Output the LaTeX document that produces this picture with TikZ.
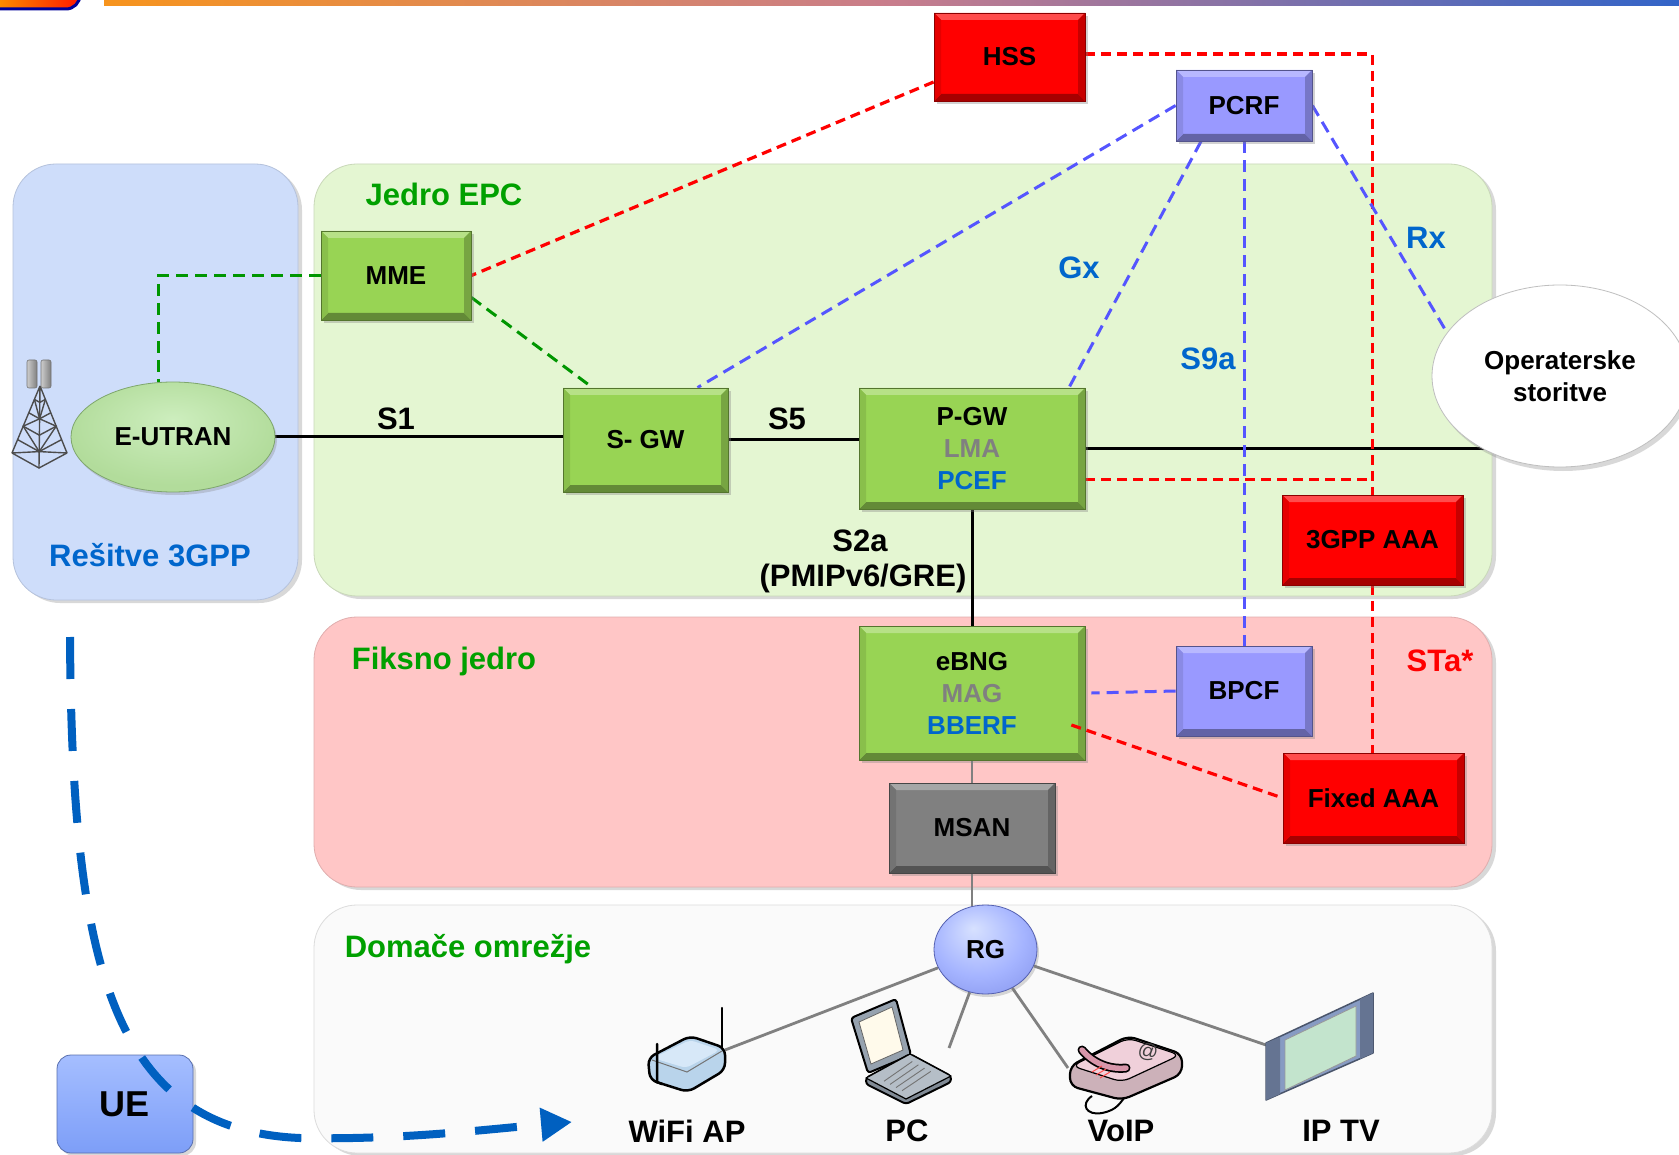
\documentclass[tikz,border=0pt]{standalone}
\usepackage{fontspec}
\setmainfont{Liberation Sans}
\usetikzlibrary{shapes.geometric,shadows,arrows.meta,calc}

% palette
\definecolor{boxgreen}{RGB}{152,212,84}
\definecolor{boxred}{RGB}{255,0,0}
\definecolor{boxlav}{RGB}{153,153,255}
\definecolor{boxgray}{RGB}{128,128,128}
\definecolor{panelblue}{RGB}{206,221,250}
\definecolor{panelgreen}{RGB}{228,246,210}
\definecolor{panelpink}{RGB}{255,198,198}
\definecolor{panelgray}{RGB}{250,250,250}
\definecolor{labgreen}{RGB}{0,160,0}
\definecolor{labblue}{RGB}{0,102,204}
\definecolor{midgray}{RGB}{128,128,128}
\definecolor{dashred}{RGB}{255,0,0}
\definecolor{dashblue}{RGB}{85,85,255}
\definecolor{dashgreen}{RGB}{0,150,0}
\definecolor{ueblue}{RGB}{0,96,192}
\definecolor{uetop}{RGB}{165,190,255}
\definecolor{uebot}{RGB}{125,158,248}
\definecolor{eulight}{RGB}{205,238,190}
\definecolor{eumid}{RGB}{178,220,155}
\definecolor{eudark}{RGB}{140,185,120}
\definecolor{rglight}{RGB}{215,225,255}
\definecolor{rgmid}{RGB}{165,180,255}
\definecolor{rgdark}{RGB}{105,120,220}
\definecolor{apblue}{RGB}{185,212,235}
\definecolor{aplight}{RGB}{215,232,248}
\definecolor{lapgray}{RGB}{150,162,175}
\definecolor{lapscreen}{RGB}{255,250,235}
\definecolor{phonepink}{RGB}{240,208,218}
\definecolor{phonedark}{RGB}{215,150,170}
\definecolor{tvframe}{RGB}{135,155,195}
\definecolor{tvscreen}{RGB}{195,228,205}
\definecolor{barorange}{RGB}{247,148,29}
\definecolor{barmid}{RGB}{200,125,140}
\definecolor{barblue}{RGB}{50,100,200}

\pgfdeclarelayer{panels}
\pgfdeclarelayer{links}
\pgfsetlayers{panels,links,main}

\pgfdeclareradialshading{eushade}{\pgfpoint{0bp}{8bp}}{color(0bp)=(eulight); color(26bp)=(eumid); color(46bp)=(eumid); color(54bp)=(eudark)}
\pgfdeclareradialshading{rgshade}{\pgfpoint{-6bp}{12bp}}{color(0bp)=(rglight); color(22bp)=(rgmid); color(52bp)=(rgdark)}
\pgfdeclareradialshading{opsshade}{\pgfpoint{-4bp}{6bp}}{color(0bp)=(white); color(38bp)=(white); color(50bp)=(black!18); color(58bp)=(black!38)}

\tikzset{
  boxfont/.style={font=\fontsize{26}{32}\selectfont\bfseries},
  lab/.style={font=\fontsize{31}{36}\selectfont\bfseries, inner sep=0pt},
  devlab/.style={font=\fontsize{31}{36}\selectfont\bfseries, inner sep=0pt},
  bev/.style={rectangle, fill=#1, draw=#1!55!black, line width=0.8pt, inner sep=0pt,
    align=center, boxfont,
    drop shadow={shadow xshift=3pt, shadow yshift=-3pt, opacity=0.35},
    path picture={
      \fill[#1!70!white] (path picture bounding box.north west) -- (path picture bounding box.north east)
        -- ([shift={(-7pt,-7pt)}]path picture bounding box.north east) -- ([shift={(7pt,-7pt)}]path picture bounding box.north west) -- cycle;
      \fill[#1!65!black] (path picture bounding box.south west) -- (path picture bounding box.south east)
        -- ([shift={(-7pt,7pt)}]path picture bounding box.south east) -- ([shift={(7pt,7pt)}]path picture bounding box.south west) -- cycle;
      \fill[#1!90!black] (path picture bounding box.north west) -- ([shift={(7pt,-7pt)}]path picture bounding box.north west)
        -- ([shift={(7pt,7pt)}]path picture bounding box.south west) -- (path picture bounding box.south west) -- cycle;
      \fill[#1!78!black] (path picture bounding box.north east) -- ([shift={(-7pt,-7pt)}]path picture bounding box.north east)
        -- ([shift={(-7pt,7pt)}]path picture bounding box.south east) -- (path picture bounding box.south east) -- cycle;
    }},
  panel/.style={rounded corners=43pt, fill=#1, draw=#1!88!black, line width=0.8pt,
    drop shadow={shadow xshift=4pt, shadow yshift=-3pt, opacity=0.3}},
  rdash/.style={draw=dashred, line width=3.2pt, dash pattern=on 10pt off 6pt},
  bdash/.style={draw=dashblue, line width=3pt, dash pattern=on 12pt off 7pt},
  gdash/.style={draw=dashgreen, line width=3pt, dash pattern=on 12pt off 7pt},
  solidlink/.style={draw=black, line width=3pt},
  graylink/.style={draw=black!50, line width=2.8pt},
  uedash/.style={draw=ueblue, line width=8pt, dash pattern=on 42pt off 30pt},
}

\begin{document}
\begin{tikzpicture}[x=1pt,y=-1pt]
\useasboundingbox (0,0) rectangle (1679,1155);

% ---------- background, header and area panels ----------
\begin{pgfonlayer}{panels}
  \fill[white] (0,0) rectangle (1679,1155);
  \shade[left color=barorange, right color=barblue, middle color=barmid] (104,0) rectangle (1679,6);
  \shade[left color=orange!70!yellow, right color=red!80!orange, rounded corners=14pt,
         draw=blue!60!black, line width=3pt] (-20,-30) rectangle (80,9);
  \path[panel=panelblue]  (13,164)  rectangle (298,600);
  \path[panel=panelgreen] (314,164) rectangle (1492,596);
  \path[panel=panelpink]  (314,617) rectangle (1492,887);
  \path[panel=panelgray]  (314,905) rectangle (1492,1153);
  % radio tower
  \begin{scope}[line width=1.4pt, draw=black!70]
    \draw (40,386) -- (12,453) (40,386) -- (67,453) (40,386) -- (39,468);
    \draw (12,453) -- (39,468) -- (67,453);
    \foreach \t in {0.2,0.4,0.6,0.8}{
      \draw ($(40,386)!\t!(12,453)$) -- ($(40,386)!\t!(39,468)$) -- ($(40,386)!\t!(67,453)$);
    }
    \draw ($(40,386)!0.2!(12,453)$) -- ($(40,386)!0.4!(39,468)$) -- ($(40,386)!0.6!(12,453)$) -- ($(40,386)!0.8!(39,468)$) -- (12,453);
    \draw ($(40,386)!0.2!(67,453)$) -- ($(40,386)!0.4!(39,468)$) -- ($(40,386)!0.6!(67,453)$) -- ($(40,386)!0.8!(39,468)$) -- (67,453);
  \end{scope}
  \foreach \ax in {32,46}{
    \shade[left color=black!20, right color=black!50, draw=black!55, line width=0.6pt, rounded corners=2pt]
      (\ax-5,360) rectangle (\ax+5,388);
  }
\end{pgfonlayer}

% ---------- network elements ----------
\node[bev=boxred, minimum width=151pt, minimum height=88pt] (hss) at (1009.5,57) {HSS};
\node[bev=boxlav, minimum width=136pt, minimum height=71pt] (pcrf) at (1244,105.5) {PCRF};
\node[bev=boxgreen, minimum width=150pt, minimum height=89pt] (mme) at (396,275.5) {MME};
\node[bev=boxgreen, minimum width=165pt, minimum height=104pt] (sgw) at (645.5,440) {S- GW};
\node[bev=boxgreen, minimum width=226pt, minimum height=121pt] (pgw) at (972,448.5)
  {P-GW\\\textcolor{midgray}{LMA}\\\textcolor{labblue}{PCEF}};
\node[bev=boxred, minimum width=181pt, minimum height=90pt] (aaa) at (1372.5,540) {3GPP AAA};
\node[bev=boxgreen, minimum width=226pt, minimum height=134pt] (ebng) at (972,693)
  {eBNG\\\textcolor{midgray}{MAG}\\\textcolor{labblue}{BBERF}};
\node[bev=boxlav, minimum width=136pt, minimum height=90pt] (bpcf) at (1244,691) {BPCF};
\node[bev=boxred, minimum width=181pt, minimum height=90pt] (faaa) at (1373.5,798) {Fixed AAA};
\node[bev=boxgray, minimum width=166pt, minimum height=90pt] (msan) at (972,828) {MSAN};

\node[ellipse, minimum width=204pt, minimum height=110pt, inner sep=0pt, shading=eushade,
      draw=eudark!90!black, line width=0.8pt, boxfont,
      drop shadow={shadow xshift=2pt, shadow yshift=-3pt, opacity=0.3}] (eutran) at (173,437) {E-UTRAN};
\node[ellipse, minimum width=256pt, minimum height=182pt, inner sep=0pt, shading=opsshade,
      draw=black!25, line width=0.8pt, align=center, boxfont,
      drop shadow={shadow xshift=3pt, shadow yshift=-4pt, opacity=0.3}] (ops) at (1560,376) {Operaterske\\storitve};
\node[ellipse, minimum width=103pt, minimum height=89pt, inner sep=0pt, shading=rgshade,
      draw=rgdark!80!black, line width=0.8pt, boxfont,
      drop shadow={shadow xshift=2pt, shadow yshift=-3pt, opacity=0.3}] (rg) at (985.5,949.5) {RG};
\node[rectangle, rounded corners=14pt, minimum width=136pt, minimum height=98pt, inner sep=0pt,
      top color=uetop, bottom color=uebot, draw=uebot!70!black, line width=0.8pt,
      font=\fontsize{36}{40}\selectfont\bfseries,
      drop shadow={shadow xshift=3pt, shadow yshift=-3pt, opacity=0.3}] (ue) at (125,1104) {UE};

% ---------- area and interface labels ----------
\node[lab, text=labgreen] (epc) at (444,194) {Jedro EPC};
\node[lab, text=labgreen] (fix) at (444,661) {Fiksno jedro};
\node[lab, text=labgreen] (dom) at (468,949) {Domače omrežje};
\node[lab, text=labblue]  (res) at (150,555) {Rešitve 3GPP};
\node[lab] (s1)  at (396,419) {S1};
\node[lab] (s5)  at (787,419) {S5};
\node[lab] (s2a) at (860,541) {S2a};
\node[lab] (pmip) at (863,578) {(PMIPv6/GRE)};
\node[lab, text=labblue] (gx)  at (1079,268) {Gx};
\node[lab, text=labblue] (s9a) at (1208,359) {S9a};
\node[lab, text=labblue] (rx)  at (1426,238) {Rx};
\node[lab, text=dashred] (sta) at (1440,661) {STa*};

% ---------- home devices ----------
\coordinate (wifiP) at (725,1050);
\coordinate (pcP)   at (949,1048);
\coordinate (voipP) at (1068,1068);
\coordinate (tvP)   at (1266,1045);

% WiFi access point
\filldraw[fill=apblue, draw=black, line width=2.5pt, rounded corners=7pt, line join=round]
  (648,1058) -- (690,1036) -- (725,1048) -- (725,1070) -- (688,1092) -- (650,1080) -- cycle;
\fill[aplight, rounded corners=5pt] (653,1058) -- (690,1040) -- (720,1050) -- (686,1068) -- cycle;
\draw[black!55, line width=1pt] (652,1060) -- (687,1072) -- (722,1051);
\draw[line width=2.5pt, line cap=round] (722,1047) -- (722,1008);
\draw[line width=2.5pt, line cap=round] (657,1044) -- (657,1082) -- (662,1084);

% laptop
\filldraw[fill=lapgray, draw=black, line width=2pt, rounded corners=3pt, line join=round]
  (851,1018) -- (896,999) -- (911,1055) -- (868,1073) -- cycle;
\filldraw[fill=lapscreen, draw=black!60, line width=0.8pt] (859,1022) -- (892,1007) -- (903,1050) -- (871,1064) -- cycle;
\filldraw[fill=lapgray!85!black, draw=black, line width=2pt, rounded corners=3pt, line join=round]
  (866,1078) -- (910,1054) -- (951,1076) -- (951,1082) -- (906,1104) -- (866,1084) -- cycle;
\filldraw[fill=lapgray!70!white, draw=black, line width=1.2pt, line join=round]
  (866,1078) -- (910,1054) -- (951,1076) -- (906,1099) -- cycle;
\foreach \k in {0.25,0.4,0.55,0.7}{
  \draw[black!55, line width=0.9pt] ($(866,1078)!\k!(906,1099)+(8,-2)$) -- ($(910,1054)!\k!(951,1076)+(-8,2)$);
}

% VoIP phone
\draw[line width=2pt, line join=round]
  (1092,1096) .. controls (1080,1104) and (1086,1116) .. (1102,1113) .. controls (1118,1110) and (1120,1102) .. (1126,1096);
\filldraw[fill=phonepink!85!black, draw=black, line width=2.2pt, rounded corners=8pt, line join=round]
  (1070,1066) -- (1128,1036) -- (1182,1054) -- (1182,1074) -- (1122,1100) -- (1070,1086) -- cycle;
\filldraw[fill=phonepink, draw=black, line width=1.2pt, rounded corners=8pt, line join=round]
  (1072,1066) -- (1128,1038) -- (1180,1055) -- (1122,1082) -- cycle;
\node[font=\fontsize{20}{20}\selectfont, text=black!75, inner sep=0pt, rotate=-8] (at) at (1148,1052) {@};
\draw[black, line width=9pt, line cap=round] (1082,1050) .. controls (1092,1062) and (1108,1070) .. (1126,1068);
\draw[phonedark, line width=5.5pt, line cap=round] (1082,1050) .. controls (1092,1062) and (1108,1070) .. (1126,1068);
\draw[red!70!white, line width=1pt] (1092,1072) -- (1102,1066) (1096,1075) -- (1106,1069) (1100,1078) -- (1110,1072);

% IP television
\filldraw[fill=tvframe, draw=tvframe!55!black, line width=1.5pt, line join=round]
  (1266,1043) -- (1373,993) -- (1373,1053) -- (1266,1100) -- cycle;
\fill[tvframe!75!black] (1266,1043) -- (1280,1037) -- (1280,1094) -- (1266,1100) -- cycle;
\fill[tvframe!75!black] (1360,999) -- (1373,993) -- (1373,1053) -- (1360,1059) -- cycle;
\filldraw[fill=tvscreen, draw=black!40, line width=0.8pt] (1285,1040) -- (1356,1006) -- (1356,1056) -- (1285,1090) -- cycle;

\node[devlab] (lwifi) at (687,1131) {WiFi AP};
\node[devlab] (lpc)   at (907,1131) {PC};
\node[devlab] (lvoip) at (1121,1131) {VoIP};
\node[devlab] (ltv)   at (1341,1131) {IP TV};

% ---------- connectors ----------
\begin{pgfonlayer}{links}
  % user plane
  \draw[solidlink] (eutran.east) -- (eutran.east -| sgw.west);
  \draw[solidlink] (sgw.east) -- (sgw.east -| pgw.west);
  \draw[solidlink] (pgw.east) -- (pgw.east -| ops.center);
  \draw[solidlink] (pgw.south) -- (ebng.north);
  \draw[graylink] (ebng.south) -- (msan.north);
  \draw[graylink] (msan.south) -- (msan.south |- rg.center);
  \draw[graylink] (rg) -- (wifiP);
  \draw[graylink] (rg) -- (pcP);
  \draw[graylink] (rg) -- (voipP);
  \draw[graylink] (rg) -- (tvP);
  % HSS / AAA signalling
  \draw[rdash] ([yshift=-25pt]hss.west) -- (mme.east);
  \draw[rdash] ([yshift=3pt]hss.east) -| (aaa.north);
  \draw[rdash] ([yshift=-31pt]pgw.east) -- ([yshift=-31pt]pgw.east -| aaa.north);
  \draw[rdash] (aaa.south) -- (aaa.south |- faaa.north);
  % MME signalling
  \draw[gdash] (mme.west) -| ([xshift=-15pt]eutran.north);
  \draw[gdash] ([yshift=-22pt]mme.east) -- ([xshift=-53pt]sgw.north);
  % policy control
  \draw[bdash] (pcrf.west) -- ([xshift=52pt]sgw.north);
  \draw[bdash] ([xshift=-43pt]pcrf.south) -- ([xshift=97pt]pgw.north);
  \draw[bdash] (pcrf.south) -- (bpcf.north);
  \draw[bdash] (pcrf.east) -- (ops.159);
  \draw[bdash] (bpcf.west) -- ([xshift=6pt]ebng.east);
\end{pgfonlayer}
\draw[rdash] ([shift={(-14pt,-32pt)}]ebng.east) -- (faaa.west);

% UE mobility between access networks
\coordinate (ueStart) at (70,637);
\coordinate (ueEnd) at (572,1122);
\draw[uedash, -{Triangle[length=31pt,width=32pt]}]
  (ueStart) .. controls (72,960) and (110,1130) .. (300,1138)
  .. controls (400,1140) and (480,1130) .. (ueEnd);

\end{tikzpicture}
\end{document}
